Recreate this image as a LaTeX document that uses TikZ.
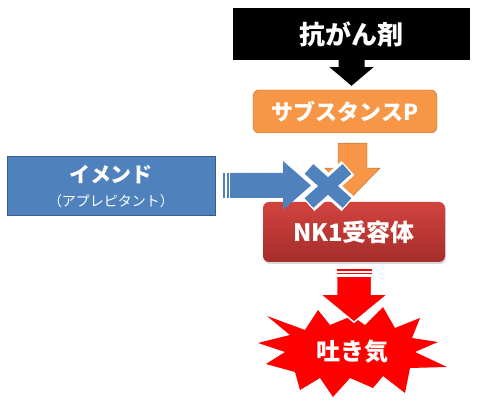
\documentclass[tikz,border=0pt]{standalone}
\usepackage{fontspec}
\setmainfont{Noto Sans CJK JP}
\usepackage{tikz}
\usetikzlibrary{calc,shadows}
\definecolor{nv-orange}{HTML}{F79646}
\definecolor{nv-orangeline}{HTML}{B66D31}
\definecolor{nv-blue}{HTML}{4F81BD}
\definecolor{nv-blueline}{HTML}{385D8A}
\definecolor{nv-redtop}{HTML}{D2433F}
\definecolor{nv-redbot}{HTML}{A52D2A}
\definecolor{nv-red}{HTML}{FF0000}

\begin{document}
\begin{tikzpicture}[x=1pt, y=1pt,
    box/.style={minimum width=#1, inner sep=0pt, text=white, font=\bfseries},
    lbl/.style={text=white, font=\bfseries\fontsize{24}{26}\selectfont}]

    \useasboundingbox (0,0) rectangle (480,402);

    % Kästen
    \node[box=237, minimum height=52, fill=black, lbl, font=\bfseries\fontsize{26}{28}\selectfont] (anti) at (351.5,368) {抗がん剤};
    \node[box=184, minimum height=43, fill=nv-orange, draw=nv-orangeline, rounded corners=6, lbl, font=\bfseries\fontsize{22}{24}\selectfont] (subp) at (345,290.5) {サブスタンスP};
    \node[box=182, minimum height=60, rounded corners=6, top color=nv-redtop, bottom color=nv-redbot, drop shadow={opacity=0.3, shadow xshift=1pt, shadow yshift=-2pt}, lbl] (nk1) at (354,170) {NK1受容体};
    \node[box=208, minimum height=59, fill=nv-blue, draw=nv-blueline, line width=1pt, align=center, text=white, font=\mdseries] (emend) at (111,215.5)
        {{\bfseries\fontsize{21}{23}\selectfont イメンド}\\[9pt]{\fontsize{14}{16}\selectfont （アプレピタント）}};

    % Pfeil: Antikrebsmittel -> Substanz P
    \fill[black] ($(anti.south)+(-13,0)$) -- ++(0,-7) -- ++(-9,0) -- ($(subp.north)+(6.5,4)$) -- ($(anti.south)+(22,-7)$) -- ++(-9,0) -- ($(anti.south)+(13,0)$) -- cycle;

    % Pfeil: Substanz P -> NK1
    \filldraw[fill=nv-orange, draw=nv-orangeline] ($(subp.south)+(-7,-10)$) -- ++(0,-25) -- ++(-13,0) -- ($(nk1.north)+(-2,5)$) -- ($(subp.south)+(35,-35)$) -- ++(-13,0) -- ++(0,25) -- cycle;

    % Pfeil: Emend -> Blockade
    \fill[nv-blue] (223,204) rectangle (225,229);
    \fill[nv-blue] (227,204) rectangle (229,229);
    \fill[nv-blue] (230,204) -- (283,204) -- (283,192) -- (311,216.5) -- (283,241) -- (283,229) -- (230,229) -- cycle;

    % Blockade (X)
    \coordinate (block) at (328,216);
    \draw[white, line width=19] ($(block)+(-20,-18)$) -- ($(block)+(20,18)$) ($(block)+(-20,18)$) -- ($(block)+(20,-18)$);
    \draw[nv-blue, line width=13] ($(block)+(-19,-17)$) -- ($(block)+(19,17)$) ($(block)+(-19,17)$) -- ($(block)+(19,-17)$);

    % Erbrechen (Stern)
    \coordinate (burst) at (352,50);
    \fill[nv-red] (267,86) -- (290,67) -- (258,59) -- (285,50) -- (266,38) -- (295,30) -- (300,12) -- (320,24)
        -- (333,5) -- (350,24) -- (373,14) -- (383,26) -- (405,9) -- (410,34) -- (447,35) -- (415,50)
        -- (438,60) -- (412,64) -- (420,84) -- (395,74) -- (383,95) -- (365,77) -- (352,86) -- (330,77)
        -- (318,92) -- (305,72) -- cycle;
    \node[lbl] (nausea) at (burst) {吐き気};

    % Pfeil: NK1 -> Erbrechen
    \fill[nv-red] ($(nk1.south)+(-17.5,-7)$) rectangle ($(nk1.south)+(17.5,-9)$);
    \fill[nv-red] ($(nk1.south)+(-17.5,-10.5)$) rectangle ($(nk1.south)+(17.5,-12)$);
    \filldraw[fill=nv-red, draw=white, line width=1.5] ($(nk1.south)+(-17.5,-14)$) -- ++(0,-18) -- ++(-16.5,0) -- ($(nk1.south)+(0,-60)$) -- ($(nk1.south)+(34,-32)$) -- ++(-16.5,0) -- ++(0,18) -- cycle;

\end{tikzpicture}
\end{document}
